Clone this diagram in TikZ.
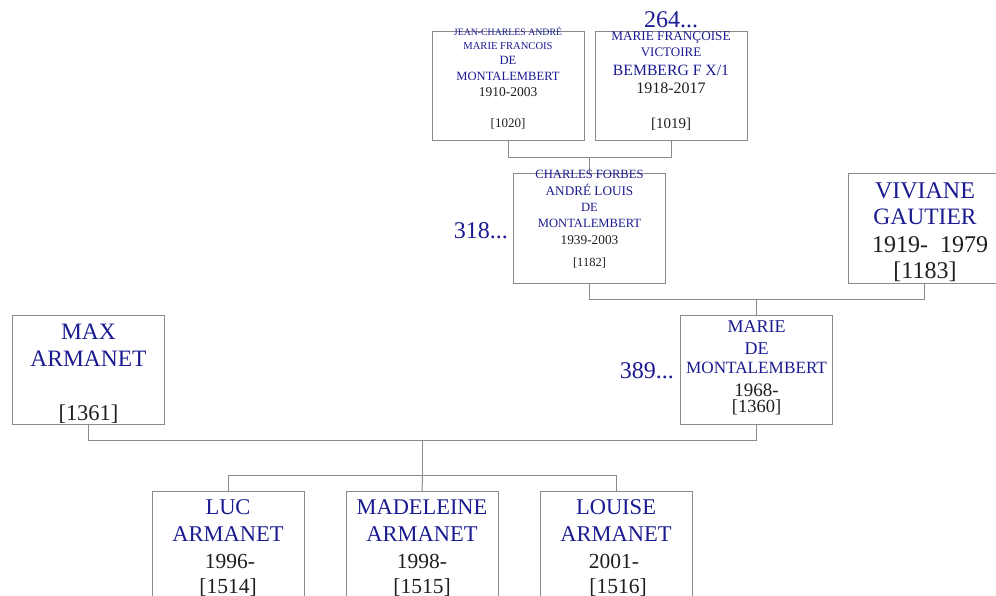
\documentclass[tikz,border=0pt]{standalone}
\usepackage{fontspec}
\setmainfont{Liberation Serif}
\definecolor{namecol}{RGB}{26,26,145}
\definecolor{datecol}{RGB}{30,30,30}
\definecolor{framecol}{RGB}{138,138,138}
\newcommand{\fs}[1]{\fontsize{#1}{#1}\selectfont}
\tikzset{
  box/.style={draw=framecol, line width=1pt, minimum width=152pt, minimum height=109pt, inner sep=0, outer sep=0},
  conn/.style={draw=framecol, line width=1pt},
  nm/.style={inner sep=0, anchor=base, text=namecol},
  dt/.style={inner sep=0, anchor=base, text=datecol},
}
\begin{document}
\begin{tikzpicture}[x=1pt,y=-1pt]
\useasboundingbox (0,0) rectangle (996,596);
% boxes
\node[box] (A) at (508,86.5) {};
\node[box] (B) at (671,86.5) {};
\node[box] (C) at (589.5,228.5) {};
\node[box] (D) at (924,228.5) {};
\node[box] (E) at (756.5,369.5) {};
\node[box] (F) at (88.5,369.5) {};
\node[box] (G) at (228,545.5) {};
\node[box] (H) at (422,545.5) {};
\node[box] (I) at (616,545.5) {};
% connectors
\coordinate (ab) at (589.5,157.5);
\draw[conn] (A.south) |- (ab) -| (B.south);
\draw[conn] (ab) -- (C.north);
\coordinate (cd) at (756.5,299.5);
\draw[conn] (C.south) |- (cd) -| (D.south);
\draw[conn] (cd) -- (E.north);
\coordinate (fe) at (422.5,440.5);
\coordinate (kids) at (422.5,475.5);
\draw[conn] (F.south) |- (fe) -| (E.south);
\draw[conn] (fe) -- (kids);
\draw[conn] (G.north) |- (kids) -| (I.north);
\draw[conn] (kids) -- (H.north);
% A
\node[nm, font=\fs{9.8}] (a1) at (508,36) {JEAN-CHARLES ANDRÉ};
\node[nm, font=\fs{10.6}] (a2) at (508,49.7) {MARIE FRANCOIS};
\node[nm, font=\fs{12.6}] (a3) at (508,64.3) {DE};
\node[nm, font=\fs{12.6}] (a4) at (508,81) {MONTALEMBERT};
\node[dt, font=\fs{13.5}] (a5) at (508,96.7) {1910-2003};
\node[dt, font=\fs{13}] (a6) at (508,127.7) {[1020]};
% B
\node[nm, font=\fs{24}] (b0) at (671,27.3) {264...};
\node[nm, font=\fs{13.2}] (b1) at (671,40.7) {MARIE FRANÇOISE};
\node[nm, font=\fs{13}] (b2) at (671,56.7) {VICTOIRE};
\node[nm, font=\fs{15.7}] (b3) at (671,76) {BEMBERG F X/1};
\node[dt, font=\fs{16}] (b4) at (671,93.3) {1918-2017};
\node[dt, font=\fs{15}] (b5) at (671,128.3) {[1019]};
% C
\node[nm, font=\fs{24}, anchor=base east] (c0) at (508,238.3) {318...};
\node[nm, font=\fs{12.6}] (c1) at (589.5,179) {CHARLES FORBES};
\node[nm, font=\fs{13.2}] (c2) at (589.5,195.7) {ANDRÉ LOUIS};
\node[nm, font=\fs{12.6}] (c3) at (589.5,211.7) {DE};
\node[nm, font=\fs{12.6}] (c4) at (589.5,227.7) {MONTALEMBERT};
\node[dt, font=\fs{13.3}] (c5) at (589.5,244) {1939-2003};
\node[dt, font=\fs{12.5}] (c6) at (589.5,266.7) {[1182]};
% D
\node[nm, font=\fs{24}] (d1) at (925,198.3) {VIVIANE};
\node[nm, font=\fs{23.5}] (d2) at (925,225) {GAUTIER};
\node[dt, font=\fs{24}] (d3) at (930,252.7) {1919-\ \ 1979};
\node[dt, font=\fs{24}] (d4) at (925,278.3) {[1183]};
% E
\node[nm, font=\fs{24}, anchor=base east] (e0) at (674,378.3) {389...};
\node[nm, font=\fs{18}] (e1) at (756.5,332.7) {MARIE};
\node[nm, font=\fs{18}] (e2) at (756.5,354) {DE};
\node[nm, font=\fs{17.2}] (e3) at (756.5,373.3) {MONTALEMBERT};
\node[dt, font=\fs{19}] (e4) at (756.5,396) {1968-};
\node[dt, font=\fs{18.5}] (e5) at (756.5,412.7) {[1360]};
% F
\node[nm, font=\fs{23.5}] (f1) at (88.5,339.3) {MAX};
\node[nm, font=\fs{23.5}] (f2) at (88.5,366) {ARMANET};
\node[dt, font=\fs{22.5}] (f3) at (88.5,420) {[1361]};
% G
\node[nm, font=\fs{22.5}] (g1) at (228,514) {LUC};
\node[nm, font=\fs{22.5}] (g2) at (228,541.7) {ARMANET};
\node[dt, font=\fs{21.5}] (g3) at (230,568.3) {1996-};
\node[dt, font=\fs{21.5}] (g4) at (228,593.3) {[1514]};
% H
\node[nm, font=\fs{22.4}] (h1) at (422,514) {MADELEINE};
\node[nm, font=\fs{22.5}] (h2) at (422,541.7) {ARMANET};
\node[dt, font=\fs{21.5}] (h3) at (422,568.3) {1998-};
\node[dt, font=\fs{21.5}] (h4) at (422,593.3) {[1515]};
% I
\node[nm, font=\fs{22.5}] (i1) at (616,514) {LOUISE};
\node[nm, font=\fs{22.5}] (i2) at (616,541.7) {ARMANET};
\node[dt, font=\fs{21.5}] (i3) at (614,568.3) {2001-};
\node[dt, font=\fs{21.5}] (i4) at (618,593.3) {[1516]};
\end{tikzpicture}
\end{document}
